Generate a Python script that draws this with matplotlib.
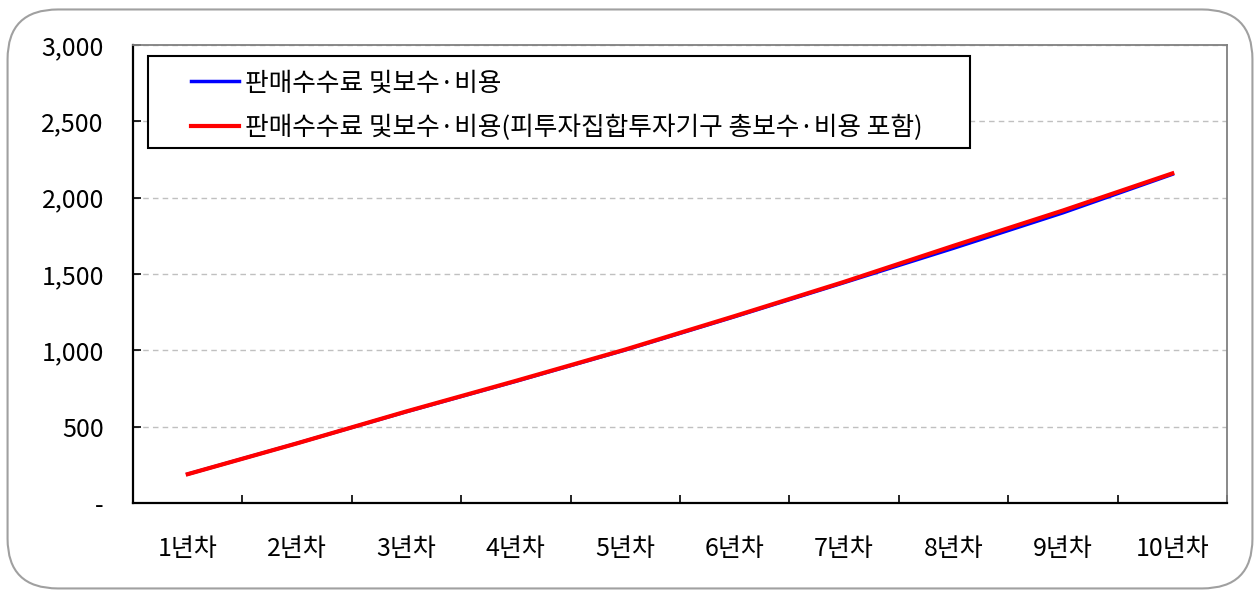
import matplotlib.pyplot as plt
from matplotlib.patches import FancyBboxPatch, Rectangle
from matplotlib.ticker import FuncFormatter

plt.rcParams['font.family'] = ['Noto Sans CJK KR', 'DejaVu Sans']

# data
years = ['1년차', '2년차', '3년차', '4년차', '5년차', '6년차', '7년차', '8년차', '9년차', '10년차']
fee = [189, 391, 598, 797, 1002, 1220, 1443, 1668, 1900, 2152]
fee_incl = [189, 391, 600, 800, 1005, 1224, 1448, 1684, 1915, 2158]
labels = ['판매수수료 및보수·비용', '판매수수료 및보수·비용(피투자집합투자기구 총보수·비용 포함)']

fig = plt.figure(figsize=(12.6, 5.92), dpi=100)
fig.patches.append(FancyBboxPatch((0.006, 0.006), 0.988, 0.978,
                                  boxstyle='round,pad=0,rounding_size=0.04',
                                  transform=fig.transFigure, fill=False,
                                  edgecolor='#a0a0a0', linewidth=1.5,
                                  mutation_aspect=2.1))
ax = fig.add_axes([0.1056, 0.1503, 0.8682, 0.774])

x = [i + 0.5 for i in range(len(years))]
ax.plot(x, fee, color='#0000ff', linewidth=2.5, label=labels[0])
ax.plot(x, fee_incl, color='#ff0000', linewidth=3, label=labels[1])

ax.set_xlim(0, 10)
ax.set_ylim(0, 3000)
ax.set_yticks(range(0, 3001, 500))
ax.yaxis.set_major_formatter(FuncFormatter(lambda v, p: '-' if v == 0 else f'{int(v):,}'))
ax.set_xticks(range(0, 11))
ax.set_xticklabels([])
ax.set_xticks(x, minor=True)
ax.set_xticklabels(years, minor=True)
ax.tick_params(axis='x', which='major', direction='in', length=6, width=1.2)
ax.tick_params(axis='x', which='minor', length=0, pad=24, labelsize=18)
ax.tick_params(axis='y', direction='in', length=6, width=1.2, pad=21, labelsize=18)

ax.grid(axis='y', color='#c0c0c0', linestyle=(0, (4, 3)), linewidth=1)
ax.set_axisbelow(True)
for s in ['left', 'bottom']:
    ax.spines[s].set_color('black')
    ax.spines[s].set_linewidth(1.6)
for s in ['top', 'right']:
    ax.spines[s].set_color('#808080')
    ax.spines[s].set_linewidth(1.3)

# legend box drawn separately, legend itself without frame
ax.add_patch(Rectangle((0.0137, 0.775), 0.751, 0.201, transform=ax.transAxes,
                       facecolor='white', edgecolor='black', linewidth=1.5, zorder=4))
leg = ax.legend(loc='upper left', bbox_to_anchor=(0.053, 0.944), fontsize=18.5,
                frameon=False, handlelength=1.85, handletextpad=0.25,
                borderpad=0, labelspacing=0.7, borderaxespad=0)
leg.set_zorder(5)

fig.savefig('out.png', dpi=100)
